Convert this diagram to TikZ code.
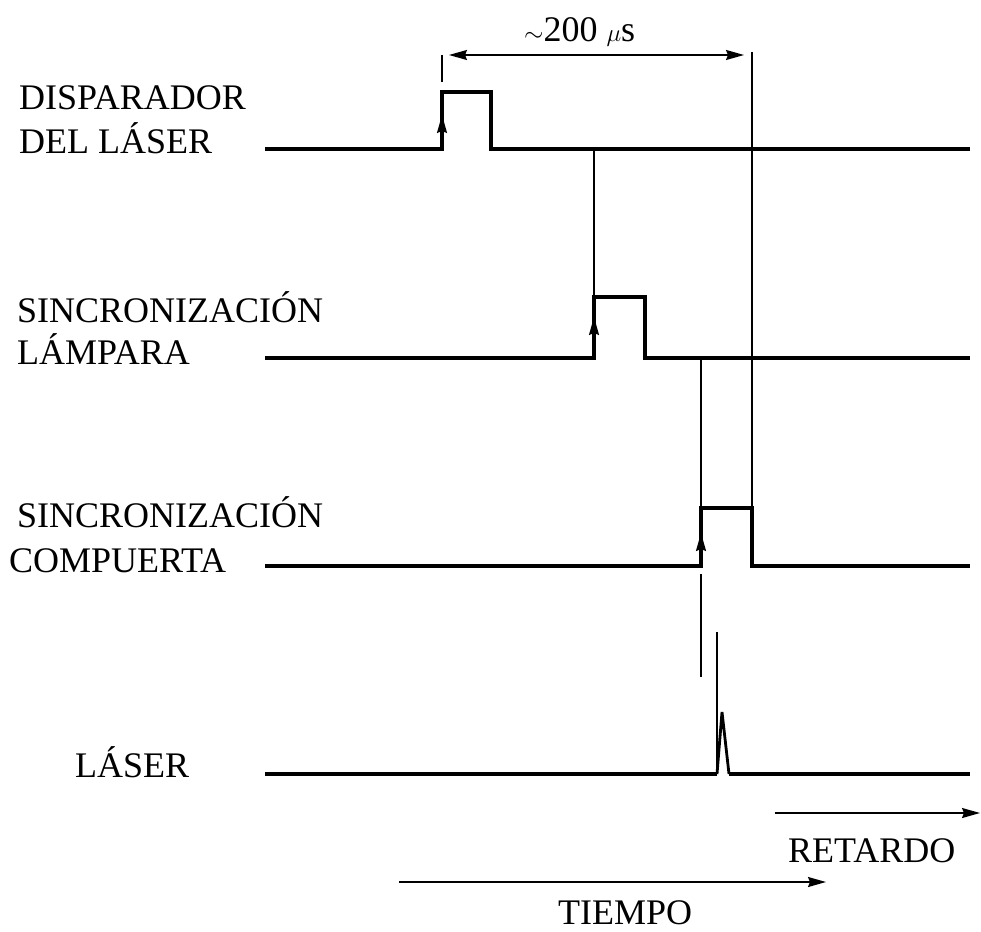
\documentclass[tikz,border=0pt]{standalone}
\usepackage{fontspec}
\setmainfont{Liberation Serif}
\usetikzlibrary{arrows.meta}
\begin{document}
\begin{tikzpicture}[x=1pt,y=-1pt,
  sig/.style={line width=3.8pt, line join=miter},
  thinln/.style={line width=1.6pt},
  tipend/.style={-{Stealth[length=18pt,width=10pt,inset=2pt]}},
  bothend/.style={{Stealth[length=18pt,width=10pt,inset=2pt]}-{Stealth[length=18pt,width=10pt,inset=2pt]}},
  lbl/.style={font=\fontsize{36}{42}\selectfont, inner sep=0pt, anchor=base west},
]
\useasboundingbox[fill=white] (0,0) rectangle (981,931);

% labels
\node[lbl] (l1a) at (19,110) {DISPARADOR};
\node[lbl] (l1b) at (19,153) {DEL LÁSER};
\node[lbl] (l2a) at (17,322) {SINCRONIZACIÓN};
\node[lbl] (l2b) at (17,364) {LÁMPARA};
\node[lbl] (l3a) at (17,527) {SINCRONIZACIÓN};
\node[lbl] (l3b) at (9,572) {COMPUERTA};
\node[lbl] (l4) at (75,777) {LÁSER};
\node[lbl] (ret) at (788,862) {RETARDO};
\node[lbl] (tie) at (558,924) {TIEMPO};
\node[lbl] (dur) at (524,42) {$\sim$200 $\mu$s};

% key coordinates
\coordinate (s1a) at (265,149); \coordinate (s1r) at (442,149); \coordinate (s1t) at (442,92);
\coordinate (s1u) at (491,92); \coordinate (s1f) at (491,149); \coordinate (s1e) at (970,149);
\coordinate (s2a) at (265,358); \coordinate (s2r) at (594,358); \coordinate (s2t) at (594,297);
\coordinate (s2u) at (645,297); \coordinate (s2f) at (645,358); \coordinate (s2e) at (970,358);
\coordinate (s3a) at (265,566); \coordinate (s3r) at (701,566); \coordinate (s3t) at (701,508);
\coordinate (s3u) at (752,508); \coordinate (s3f) at (752,566); \coordinate (s3e) at (970,566);
\coordinate (s4a) at (265,774); \coordinate (s4l) at (717,774); \coordinate (s4p) at (722,712);
\coordinate (s4r) at (729,774); \coordinate (s4e) at (970,774); \coordinate (s4s) at (717,632);

% signals
\draw[sig] (s1a) -- (s1r) -- (s1t) -- (s1u) -- (s1f) -- (s1e);
\draw[sig] (s2a) -- (s2r) -- (s2t) -- (s2u) -- (s2f) -- (s2e);
\draw[sig] (s3a) -- (s3r) -- (s3t) -- (s3u) -- (s3f) -- (s3e);
\draw[sig] (s4a) -- (s4l);
\draw[sig] (s4r) -- (s4e);
\draw[line width=2.8pt, line join=miter] (s4l) -- (s4p) -- (s4r);
\draw[thinln] (s4l) -- (s4s);

% rising edge arrows
\draw[thinln,tipend] (442,145) -- (442,115);
\draw[thinln,tipend] (594,352) -- (594,317);
\draw[thinln,tipend] (701,560) -- (701,533);

% timing reference lines
\coordinate (k1) at (442,55); \coordinate (k1b) at (442,82);
\coordinate (k2) at (752,52);
\draw[thinln] (k1) -- (k1b);
\draw[thinln] (k2) -- (s3u);
\draw[thinln] (s1r -| s2t) -- (s2t);
\draw[thinln] (s2r -| s3t) -- (s3t);
\coordinate (v3a) at (701,574); \coordinate (v3b) at (701,677);
\draw[thinln] (v3a) -- (v3b);
\draw[thinln,bothend] (449,55) -- (744,55);

% axis arrows
\coordinate (ra) at (775,813); \coordinate (rb) at (980,813);
\coordinate (ta) at (399,882); \coordinate (tb) at (826,882);
\draw[thinln,tipend] (ra) -- (rb);
\draw[thinln,tipend] (ta) -- (tb);
\end{tikzpicture}
\end{document}
